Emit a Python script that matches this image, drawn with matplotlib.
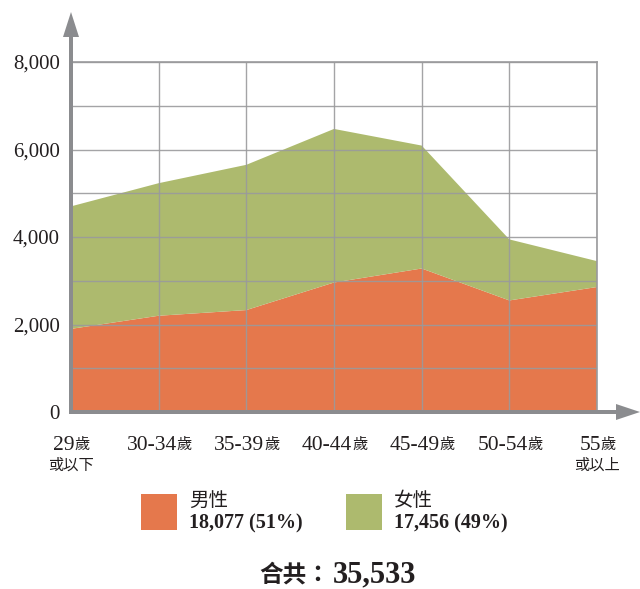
import matplotlib
matplotlib.use('Agg')
import matplotlib.pyplot as plt
from matplotlib.patches import Polygon, Rectangle
from matplotlib.transforms import offset_copy
import numpy as np

plt.rcParams['font.family'] = ['Liberation Serif', 'Noto Sans CJK TC']

# ---- data ----
age_nums = ['29', '30-34', '35-39', '40-44', '45-49', '50-54', '55']
age_unit = '歲'
age_sub = ['或以下', '', '', '', '', '', '或以上']
male = [1900, 2200, 2330, 2960, 3280, 2550, 2857]
female = [2800, 3030, 3320, 3510, 2810, 1395, 591]
legend_labels = ['男性', '女性']
legend_values = ['18,077 (51%)', '17,456 (49%)']
total_prefix = '合共：'
total_value = '35,533'
y_ticks = [0, 2000, 4000, 6000, 8000]
y_minor = [1000, 3000, 5000, 7000]

c_male = '#E5784C'
c_female = '#ADBA6E'
axis_col = '#8B8C8F'
grid_col = '#9A9A9C'
txt_col = '#231F20'

W, H = 640, 589
fig = plt.figure(figsize=(W / 100, H / 100), dpi=100)
ax = fig.add_axes([71 / W, 1 - 412 / H, (597 - 71) / W, (412 - 62) / H])
x = np.arange(len(age_nums))
ax.stackplot(x, male, female, colors=[c_male, c_female], zorder=1, linewidth=0)
ax.set_xlim(0, len(x) - 1)
ax.set_ylim(0, 8000)
ax.set_xticks(x)
ax.set_xticklabels([])
ax.set_yticks(y_ticks)
ax.set_yticklabels([f'{v:,}' for v in y_ticks], fontsize=15, color=txt_col)
ax.set_yticks(y_minor, minor=True)
ax.tick_params(axis='both', which='both', length=0)
ax.tick_params(axis='y', pad=8)
ax.set_axisbelow(False)
ax.grid(True, which='both', color=grid_col, linewidth=1.0, alpha=0.9)
for s in ['left', 'bottom']:
    ax.spines[s].set_visible(False)
for s in ['top', 'right']:
    ax.spines[s].set_color(grid_col)
    ax.spines[s].set_linewidth(1.2)

# x labels
trans = ax.get_xaxis_transform()
for i, (n, sub) in enumerate(zip(age_nums, age_sub)):
    tt = offset_copy(trans, fig=fig, x=-7, y=0, units='dots')
    t1 = ax.text(x[i], -0.122, n, transform=tt, ha='center', va='bottom',
                 fontsize=15.5, color=txt_col)
    ax.annotate(age_unit, xy=(1, 0.08), xycoords=t1, ha='left', va='bottom',
                fontsize=11, color=txt_col, family=['Noto Sans CJK TC'])
    if sub:
        ax.text(x[i], -0.152, sub, transform=trans, ha='center', va='center',
                fontsize=11, color=txt_col, family=['Noto Sans CJK TC'])

# overlay for arrows and legend (pixel coordinates)
ov = fig.add_axes([0, 0, 1, 1], facecolor='none')
ov.set_xlim(0, W)
ov.set_ylim(H, 0)
ov.axis('off')
ov.add_patch(Rectangle((69, 36), 4, 378, color=axis_col, lw=0))
ov.add_patch(Polygon([(63, 37), (79, 37), (71, 12)], closed=True, color=axis_col, lw=0))
ov.add_patch(Rectangle((69, 410), 548, 4, color=axis_col, lw=0))
ov.add_patch(Polygon([(616, 404), (616, 420), (640, 412)], closed=True, color=axis_col, lw=0))

# legend
for lx, col, lab, val in [(141, c_male, legend_labels[0], legend_values[0]),
                          (346, c_female, legend_labels[1], legend_values[1])]:
    ov.add_patch(Rectangle((lx, 494), 36, 36, color=col, lw=0))
    ov.text(lx + 48, 500, lab, ha='left', va='center', fontsize=14,
            color=txt_col, family=['Noto Sans CJK TC'])
    ov.text(lx + 48, 523, val, ha='left', va='center', fontsize=14.5,
            fontweight='bold', color=txt_col)

ov.text(330, 582, total_prefix, ha='right', va='baseline', fontsize=17,
        fontweight='bold', color=txt_col, family=['Noto Sans CJK TC'])
ov.text(333, 582, total_value, ha='left', va='baseline', fontsize=22,
        fontweight='bold', color=txt_col)

fig.savefig('out.png', dpi=100)
